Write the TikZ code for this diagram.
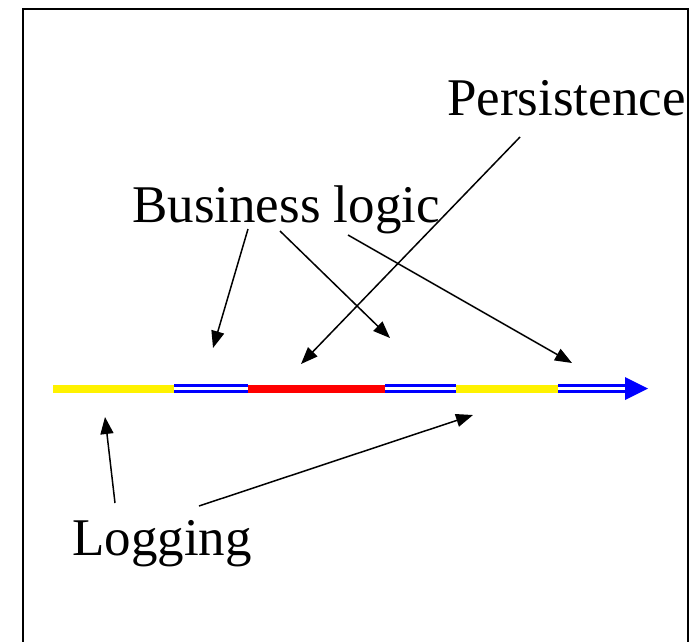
\documentclass[tikz,border=0pt]{standalone}
\usepackage{fontspec}
\setmainfont{Liberation Serif}
\usetikzlibrary{arrows.meta}
\begin{document}
\begin{tikzpicture}[x=1pt,y=-1pt,
  lbl/.style={inner sep=0pt,anchor=base west,font=\fontsize{53}{60}\selectfont},
  ptr/.style={line width=1.5pt,-{Triangle[length=17pt,width=13pt]}},
  seg/.style={line width=8pt},
  dbl/.style={draw=blue,line width=2.6pt,double=white,double distance=3pt}]
\useasboundingbox (0,0) rectangle (698,641);
\fill[white] (0,0) rectangle (698,641);
% frame
\draw[line width=2pt] (22.5,645) -- (22.5,9) -- (688,9) -- (688,645);
% labels
\node[lbl] (pers) at (447,115) {Persistence};
\node[lbl] (bl) at (132,222) {Business logic};
\node[lbl] (log) at (72,555) {Logging};
% timeline
\coordinate (p0) at (53,388.5);
\coordinate (p1) at (174,388.5);
\coordinate (p2) at (248,388.5);
\coordinate (p3) at (385,388.5);
\coordinate (p4) at (456,388.5);
\coordinate (p5) at (558,388.5);
\coordinate (p6) at (626,388.5);
\coordinate (p7) at (648,388.5);
\draw[seg,yellow] (p0) -- (p1);
\draw[dbl] (p1) -- (p2);
\draw[seg,red] (p2) -- (p3);
\draw[dbl] (p3) -- (p4);
\draw[seg,yellow] (p4) -- (p5);
\draw[dbl] (p5) -- (p6);
\fill[blue] (625,377) -- (p7) -- (625,400) -- cycle;
% arrow endpoints
\coordinate (b1) at (248,229);
\coordinate (b2) at (280,231);
\coordinate (b3) at (348,235);
\coordinate (t1) at (213,348);
\coordinate (t2) at (390,338);
\coordinate (t3) at (572,363);
\coordinate (ps) at (520,137);
\coordinate (pt) at (301,364);
\coordinate (l1) at (115,503);
\coordinate (l2) at (199,506);
\coordinate (lt1) at (105,417);
\coordinate (lt2) at (473,415);
\draw[ptr] (b1) -- (t1);
\draw[ptr] (b2) -- (t2);
\draw[ptr] (b3) -- (t3);
\draw[ptr] (ps) -- (pt);
\draw[ptr] (l1) -- (lt1);
\draw[ptr] (l2) -- (lt2);
\end{tikzpicture}
\end{document}
